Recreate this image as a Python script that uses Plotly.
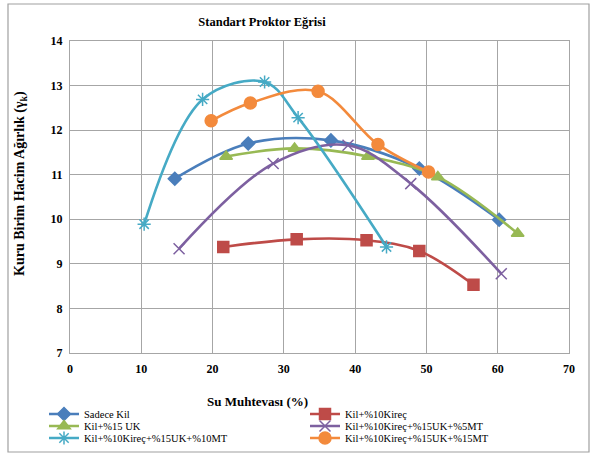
import plotly.graph_objects as go

names = ["Sadece Kil", "Kil+%10Kireç", "Kil+%15 UK",
         "Kil+%10Kireç+%15UK+%5MT", "Kil+%10Kireç+%15UK+%10MT", "Kil+%10Kireç+%15UK+%15MT"]

x_kil = [14.7, 25.0, 36.6, 49.0, 60.2]
y_kil = [10.91, 11.70, 11.77, 11.14, 9.99]

x_kirec = [21.5, 31.8, 41.6, 49.0, 56.6]
y_kirec = [9.38, 9.55, 9.53, 9.29, 8.53]

x_uk = [21.9, 31.5, 41.8, 51.6, 62.8]
y_uk = [11.41, 11.59, 11.41, 10.95, 9.68]

x_5mt = [15.3, 28.5, 39.0, 47.8, 60.5]
y_5mt = [9.34, 11.25, 11.66, 10.80, 8.78]

x_10mt = [10.4, 18.6, 27.3, 32.0, 44.4]
y_10mt = [9.89, 12.69, 13.08, 12.28, 9.38]

x_15mt = [19.8, 25.3, 34.8, 43.2, 50.3]
y_15mt = [12.21, 12.61, 12.87, 11.68, 11.06]

xs = [x_kil, x_kirec, x_uk, x_5mt, x_10mt, x_15mt]
ys = [y_kil, y_kirec, y_uk, y_5mt, y_10mt, y_15mt]
colors = ["#4A7EBB", "#BE4B48", "#98B954", "#7D60A0", "#46AAC5", "#F38A3C"]
symbols = ["diamond", "square", "triangle-up", "x-thin-open", "asterisk-open", "circle"]
sizes = [10, 11, 11, 11, 11, 12]
legend_ids = ["legend", "legend", "legend2", "legend2", "legend3", "legend3"]

W, H = 595, 457
L, R, T, B = 70, 26, 41, 104
ph = H - T - B
pw = W - L - R


def py(pix):
    return (H - B - pix) / ph


def px(pix):
    return (pix - L) / pw


fig = go.Figure()
for n, x, y, c, s, sz, lg in zip(names, xs, ys, colors, symbols, sizes, legend_ids):
    fig.add_trace(go.Scatter(
        x=x, y=y, name=n, mode="lines+markers", legend=lg,
        line=dict(color=c, width=2.6, shape="spline", smoothing=1.0),
        marker=dict(symbol=s, size=sz, color=c, line=dict(color=c, width=1.5)),
    ))

serif = "Liberation Serif, Times New Roman, serif"
grid = "#A6A6A6"


def leg(ypix):
    return dict(orientation="h", x=px(44), xanchor="left", y=py(ypix), yanchor="middle",
                entrywidth=216, entrywidthmode="pixels", itemwidth=30,
                font=dict(size=10.5, family=serif), bgcolor="rgba(0,0,0,0)")


fig.update_layout(
    width=W, height=H,
    margin=dict(l=L, r=R, t=T, b=B, autoexpand=False),
    paper_bgcolor="white", plot_bgcolor="white",
    font=dict(family=serif, size=11, color="black"),
    title=dict(text="<b>Standart Proktor Eğrisi</b>", x=262 / W, xanchor="center",
               y=1 - 22 / H, yanchor="middle", font=dict(size=12.5, family=serif)),
    xaxis=dict(range=[0, 70], dtick=10, showgrid=True, gridcolor=grid, gridwidth=1,
               showline=True, linecolor=grid, mirror=True, zeroline=False,
               ticks="", tickfont=dict(size=12, family=serif), ticklabelstandoff=5,
               tickprefix="<b>", ticksuffix="</b>"),
    yaxis=dict(range=[7, 14], dtick=1, showgrid=True, gridcolor=grid, gridwidth=1,
               showline=True, linecolor=grid, mirror=True, zeroline=False,
               ticks="", tickfont=dict(size=12, family=serif), ticklabelstandoff=4,
               tickprefix="<b>", ticksuffix="</b>"),
    legend=leg(414),
    legend2=leg(426),
    legend3=leg(438),
    showlegend=True,
)
fig.add_annotation(text="<b>Su Muhtevası (%)</b>", xref="paper", yref="paper",
                   x=px(257), y=py(402), xanchor="center", yanchor="middle",
                   showarrow=False, font=dict(size=13, family=serif))
fig.add_annotation(text="<b>Kuru Birim Hacim Ağırlık (γ<sub>k</sub>)</b>", xref="paper", yref="paper",
                   x=px(20), y=py(184), xanchor="center", yanchor="middle", textangle=-90,
                   showarrow=False, font=dict(size=14, family=serif))
fig.add_shape(type="rect", xref="paper", yref="paper",
              x0=px(8), x1=px(589), y0=py(452), y1=py(4),
              line=dict(color="#A0A0A0", width=1.2), fillcolor="rgba(0,0,0,0)", layer="below")

fig.write_html("out.html", config={"displayModeBar": False},
               post_script="document.body.style.margin='0';document.body.style.overflow='hidden';")
